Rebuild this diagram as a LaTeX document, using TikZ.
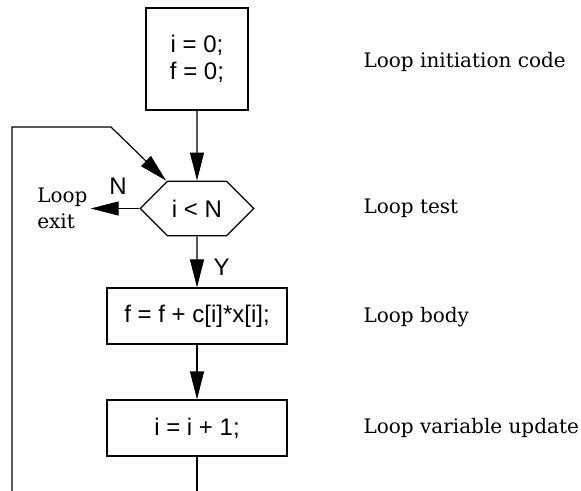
\documentclass[tikz,border=0pt]{standalone}
\usepackage{fontspec}
\setmainfont{DejaVu Serif}
\newfontfamily\codefont{Liberation Sans}
\usetikzlibrary{arrows.meta,calc,positioning,shapes.symbols}

\begin{document}
\begin{tikzpicture}[x=0.75pt,y=-0.75pt,>={Triangle[length=21pt,width=10.5pt]},line width=0.9pt,
    codebox/.style={draw,font=\codefont\fontsize{18}{20}\selectfont,align=center,inner sep=0pt},
    tag/.style={font=\codefont\fontsize{18}{20}\selectfont,inner sep=0pt},
    note/.style={anchor=west,inner sep=0pt,font=\fontsize{15}{20}\selectfont}]
      \useasboundingbox (0,0) rectangle (581,491);
      % flow chart
      \node[codebox,minimum width=76.5pt,minimum height=76.5pt] (init) at (197,59) {i = 0;\\f = 0;};
      \node[codebox,signal,signal to=east and west,signal pointer angle=90,
            minimum width=85pt,minimum height=41pt] (test) at (197,208.5) {i < N};
      \node[codebox,minimum width=135pt,minimum height=42pt] (body) at (197,316) {f = f + c[i]*x[i];};
      \node[codebox,minimum width=135pt,minimum height=42pt] (upd) at (197,428) {i = i + 1;};
      \draw[->] (init) -- (test);
      \draw[->] (test) -- (body) node[tag,pos=0.6,right=12pt]{Y};
      \draw[->] (body) -- (upd);
      % exit branch
      \node[note,align=left,inner sep=2pt] (exit) at (34,208.5) {\fontsize{15}{20}\selectfont Loop\\exit};
      \draw[->] (test.west) -- (test.west -| exit.east);
      \node[tag] (no) at (118,186) {N};
      % back edge
      \coordinate (cut) at (12,491);
      \coordinate (corner) at (111,127);
      \coordinate (hook) at ($(test.north)+(-31,0)$);
      \draw (upd.south) -- (upd.south |- cut);
      \draw[->] (cut) |- (corner) -- (hook);
      % notes
      \node[note] (n1) at (363,62) {Loop initiation code};
      \node[note] (n2) at (363,208) {Loop test};
      \node[note] (n3) at (363,317) {Loop body};
      \node[note] (n4) at (363,428) {Loop variable update};
    \end{tikzpicture}
\end{document}
